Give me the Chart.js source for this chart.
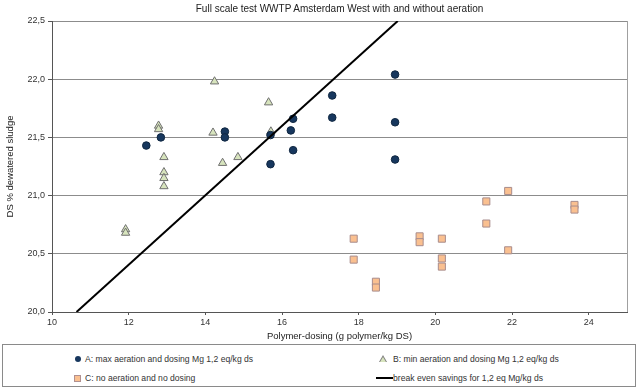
<!DOCTYPE html>
<html>
<head>
<meta charset="utf-8">
<script src="https://cdn.jsdelivr.net/npm/chart.js@4.4.1/dist/chart.umd.min.js"></script>
<style>
  body { margin: 0; background: #fff; font-family: "Liberation Sans", Arial, sans-serif; }
  #wrap { position: relative; width: 640px; height: 390px; }
  #title { position: absolute; left: 52px; width: 575px; top: 3px; text-align: center; font-size: 10px; color: #222; }
  #chart { position: absolute; left: 0; top: 0; }
  #legend { position: absolute; left: 2px; top: 344px; width: 632px; height: 41px; border: 1px solid #8a8a8a; font-size: 8.6px; color: #333; }
  .item { position: absolute; white-space: nowrap; line-height: 12px; }
  .mark { position: absolute; }
</style>
</head>
<body>
<div id="wrap">
  <canvas id="chart" width="640" height="342"></canvas>
  <div id="title">Full scale test WWTP Amsterdam West with and without aeration</div>
  <div id="legend">
    <span class="mark" style="left:72px;top:11px;width:6px;height:6px;border-radius:50%;background:#17375e;"></span>
    <span class="item" style="left:82px;top:8px;">A: max aeration and dosing Mg 1,2 eq/kg ds</span>
    <span class="mark" style="left:376px;top:10px;width:0;height:0;border-left:4px solid transparent;border-right:4px solid transparent;border-bottom:7px solid #7f7f7f;"></span>
    <span class="mark" style="left:377px;top:12px;width:0;height:0;border-left:3px solid transparent;border-right:3px solid transparent;border-bottom:5px solid #d7e4bd;"></span>
    <span class="item" style="left:390px;top:8px;">B: min aeration and dosing Mg 1,2 eq/kg ds</span>
    <span class="mark" style="left:71px;top:30px;width:5px;height:5px;background:#fac090;border:1px solid #b09090;"></span>
    <span class="item" style="left:82px;top:27px;">C: no aeration and no dosing</span>
    <span class="mark" style="left:373px;top:32px;width:17px;height:2px;background:#000;"></span>
    <span class="item" style="left:390px;top:27px;">break even savings for 1,2 eq Mg/kg ds</span>
  </div>
</div>
<script>
// A: max aeration and dosing Mg 1,2 eq/kg ds
const seriesAX = [12.46, 12.84, 14.51, 14.51, 15.70, 15.70, 16.29, 16.23, 16.29, 17.31, 17.31, 18.95, 18.95, 18.95];
const seriesAY = [21.43, 21.50, 21.55, 21.50, 21.52, 21.27, 21.66, 21.56, 21.39, 21.86, 21.67, 22.04, 21.63, 21.31];

// B: min aeration and dosing Mg 1,2 eq/kg ds
const seriesBX = [14.24, 15.65, 12.78, 12.78, 14.20, 15.71, 12.92, 14.45, 14.85, 12.92, 12.92, 12.92, 11.92, 11.92];
const seriesBY = [21.98, 21.80, 21.60, 21.57, 21.54, 21.55, 21.33, 21.28, 21.33, 21.20, 21.15, 21.08, 20.71, 20.68];

// C: no aeration and no dosing
const seriesCX = [17.87, 17.87, 18.45, 18.45, 19.59, 19.59, 20.17, 20.17, 20.17, 21.33, 21.33, 21.90, 21.90, 23.63, 23.63];
const seriesCY = [20.63, 20.45, 20.26, 20.21, 20.65, 20.60, 20.63, 20.46, 20.39, 20.95, 20.76, 21.04, 20.53, 20.92, 20.88];

// break even line
const breakEvenX = [10.64, 19.02];
const breakEvenY = [20.0, 22.5];

const xTicks = [10, 12, 14, 16, 18, 20, 22, 24];
const yTicks = [20.0, 20.5, 21.0, 21.5, 22.0, 22.5];

const toPoints = (xs, ys) => xs.map((x, i) => ({ x: x, y: ys[i] }));

// right border of the plot area
const frame = {
  id: 'frame',
  afterDraw(chart) {
    const { ctx, chartArea } = chart;
    ctx.save();
    ctx.strokeStyle = '#a0a0a0';
    ctx.lineWidth = 1;
    ctx.beginPath();
    ctx.moveTo(Math.round(chartArea.right) + 0.5, chartArea.top);
    ctx.lineTo(Math.round(chartArea.right) + 0.5, chartArea.bottom);
    ctx.stroke();
    ctx.restore();
  },
};

new Chart(document.getElementById('chart'), {
  type: 'scatter',
  data: {
    datasets: [
      {
        label: 'break even savings for 1,2 eq Mg/kg ds',
        data: toPoints(breakEvenX, breakEvenY),
        showLine: true,
        borderColor: '#000',
        borderWidth: 2,
        pointRadius: 0,
        order: 0,
      },
      {
        label: 'A: max aeration and dosing Mg 1,2 eq/kg ds',
        data: toPoints(seriesAX, seriesAY),
        pointStyle: 'circle',
        pointRadius: 3.8,
        backgroundColor: '#17375e',
        borderColor: '#0f2640',
        borderWidth: 1,
        order: 1,
      },
      {
        label: 'B: min aeration and dosing Mg 1,2 eq/kg ds',
        data: toPoints(seriesBX, seriesBY),
        pointStyle: 'triangle',
        pointRadius: 4.8,
        backgroundColor: '#d7e4bd',
        borderColor: '#707070',
        borderWidth: 1,
        order: 2,
      },
      {
        label: 'C: no aeration and no dosing',
        data: toPoints(seriesCX, seriesCY),
        pointStyle: 'rect',
        pointRadius: 5,
        backgroundColor: '#fac090',
        borderColor: '#a88c8c',
        borderWidth: 1,
        order: 3,
      },
    ],
  },
  options: {
    responsive: false,
    animation: false,
    layout: { padding: { top: 21, right: 13, left: 0, bottom: 0 } },
    plugins: {
      legend: { display: false },
      title: { display: false },
      tooltip: { enabled: false },
    },
    scales: {
      x: {
        type: 'linear',
        min: 10,
        max: 25,
        afterBuildTicks: (scale) => { scale.ticks = xTicks.map((v) => ({ value: v })); },
        ticks: {
          color: '#333',
          font: { family: 'Liberation Sans', size: 9 },
          padding: 2,
          maxRotation: 0,
        },
        grid: { display: true, drawOnChartArea: false, drawTicks: true, tickLength: 3, color: '#555' },
        border: { color: '#555', width: 1 },
        title: {
          display: true,
          text: 'Polymer-dosing (g polymer/kg DS)',
          color: '#222',
          font: { family: 'Liberation Sans', size: 9.5 },
          padding: { top: 3, bottom: 0 },
        },
        afterFit: (scale) => { scale.height = 30; },
      },
      y: {
        type: 'linear',
        min: 20,
        max: 22.5,
        afterBuildTicks: (scale) => { scale.ticks = yTicks.map((v) => ({ value: v })); },
        ticks: {
          color: '#333',
          font: { family: 'Liberation Sans', size: 9 },
          padding: 3,
          callback: (v) => v.toFixed(1).replace('.', ','),
        },
        grid: { color: '#8c8c8c', lineWidth: 1, tickLength: 4, tickColor: '#555' },
        border: { color: '#555', width: 1 },
        title: {
          display: true,
          text: 'DS % dewatered sludge',
          color: '#222',
          font: { family: 'Liberation Sans', size: 9.5 },
          padding: { top: 5, bottom: 4 },
        },
        afterFit: (scale) => { scale.width = 52; },
      },
    },
  },
  plugins: [frame],
});
</script>
</body>
</html>
